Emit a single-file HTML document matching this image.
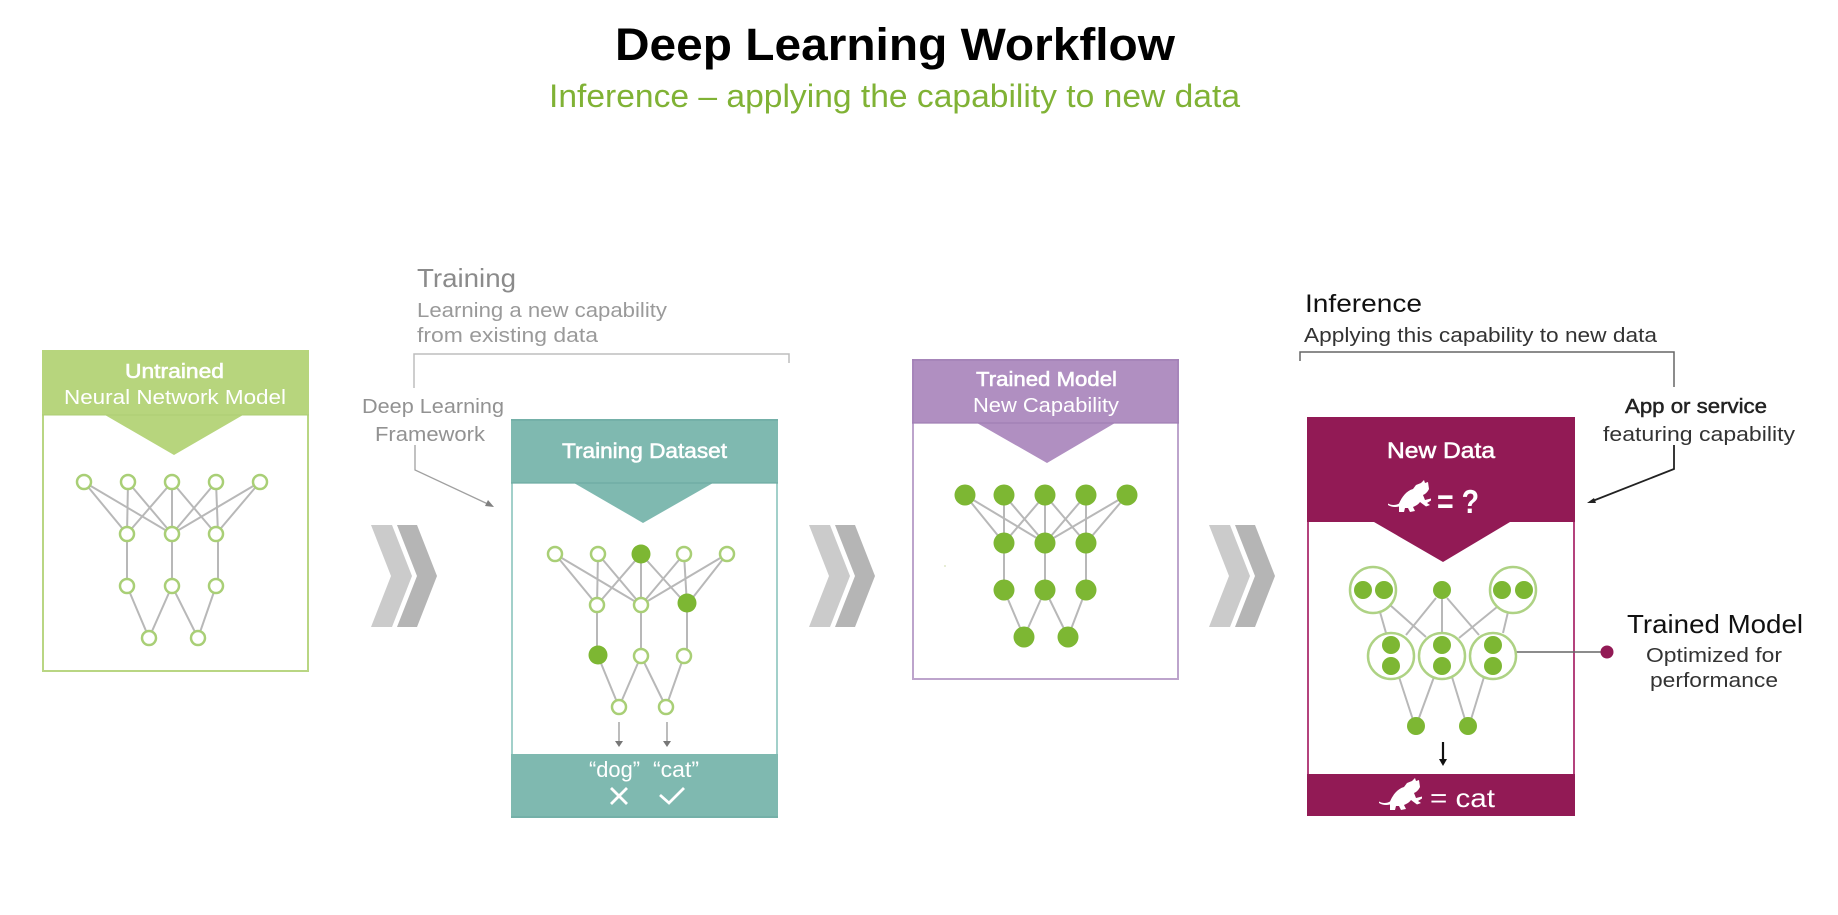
<!DOCTYPE html>
<html><head><meta charset="utf-8"><style>
html,body{margin:0;padding:0;background:#fff;width:1838px;height:915px;overflow:hidden}
svg{display:block;filter:blur(.35px)}
text{font-family:"Liberation Sans",sans-serif}
.e{stroke:#b8b8b8;stroke-width:2;fill:none}
.h{fill:#fff;stroke:#a9cf76;stroke-width:2.5}
.f{fill:#7db733}
.m{stroke:#fff;stroke-width:.55}
.d{stroke:#222;stroke-width:.45}
</style></head><body>
<svg width="1838" height="915" viewBox="0 0 1838 915" xmlns="http://www.w3.org/2000/svg">
<defs>
<path id="cat" d="M0 23.500C3 25.500 8 25.500 11 23.500C14 17 18 11 25 9L28 5L33 3L36 0L37 3L40 2L41 9C39 13 37 14 35 15L37 20L43 18.500L43 20.500L39 23L42 25L38 26.500L32 22C30 25 27 26 25 27L27 31L22 32L20 28L17 28L16 32L11 32L11 26.500C7 27.500 3 27 0 25Z" fill="#fff"/>
</defs>

<text x="615" y="60" font-size="45" font-weight="700" fill="#000" textLength="560" lengthAdjust="spacingAndGlyphs">Deep Learning Workflow</text>
<text x="549" y="107" font-size="32" fill="#80b235" textLength="691" lengthAdjust="spacingAndGlyphs">Inference – applying the capability to new data</text>

<!-- chevrons -->
<g><path d="M371 525H392L412 576L392 627H371L391 576Z" fill="#cbcbcb"/><path d="M397 525H417L437 576L417 627H397L417 576Z" fill="#b5b5b5"/></g>
<g transform="translate(438 0)"><path d="M371 525H392L412 576L392 627H371L391 576Z" fill="#cbcbcb"/><path d="M397 525H417L437 576L417 627H397L417 576Z" fill="#b5b5b5"/></g>
<g transform="translate(838 0)"><path d="M371 525H392L412 576L392 627H371L391 576Z" fill="#cbcbcb"/><path d="M397 525H417L437 576L417 627H397L417 576Z" fill="#b5b5b5"/></g>

<!-- Panel 1 -->
<rect x="43" y="351" width="265" height="320" fill="#fff" stroke="#b9d683" stroke-width="2"/>
<path d="M42 350H309V415H243L174 455L105 415H42Z" fill="#b7d57d"/>
<path d="M42 415H309" stroke="#aecd74" stroke-width="1"/>
<text class="m" x="125" y="378" font-size="20" fill="#fff" textLength="99" lengthAdjust="spacingAndGlyphs">Untrained</text>
<text x="64" y="404" font-size="20" fill="#fff" textLength="222" lengthAdjust="spacingAndGlyphs">Neural Network Model</text>
<g class="e">
<path d="M84 482L127 534M84 482L172 534M128 482L127 534M128 482L172 534M172 482L127 534M172 482L172 534M172 482L216 534M216 482L172 534M216 482L218 534M260 482L172 534M260 482L216 534"/>
<path d="M127 534V586M172 534V586M218 534V586M127 586L149 638M172 586L149 638M172 586L198 638M216 586L198 638"/>
</g>
<g class="h">
<circle cx="84" cy="482" r="7"/><circle cx="128" cy="482" r="7"/><circle cx="172" cy="482" r="7"/><circle cx="216" cy="482" r="7"/><circle cx="260" cy="482" r="7"/>
<circle cx="127" cy="534" r="7"/><circle cx="172" cy="534" r="7"/><circle cx="216" cy="534" r="7"/>
<circle cx="127" cy="586" r="7"/><circle cx="172" cy="586" r="7"/><circle cx="216" cy="586" r="7"/>
<circle cx="149" cy="638" r="7"/><circle cx="198" cy="638" r="7"/>
</g>

<!-- Training labels -->
<text x="417" y="287" font-size="26" fill="#8b8b8b" textLength="99" lengthAdjust="spacingAndGlyphs">Training</text>
<text x="417" y="317" font-size="20" fill="#9a9a9a" textLength="250" lengthAdjust="spacingAndGlyphs">Learning a new capability</text>
<text x="417" y="342" font-size="20" fill="#9a9a9a" textLength="181" lengthAdjust="spacingAndGlyphs">from existing data</text>
<path d="M414 388V354H789V363" fill="none" stroke="#bdbdbd" stroke-width="1.500"/>
<text x="362" y="413" font-size="20" fill="#929292" textLength="142" lengthAdjust="spacingAndGlyphs">Deep Learning</text>
<text x="375" y="441" font-size="20" fill="#929292" textLength="110" lengthAdjust="spacingAndGlyphs">Framework</text>
<path d="M415 445V470L490 505" fill="none" stroke="#a0a0a0" stroke-width="1.300"/>
<path d="M494 507L485 506L488 500Z" fill="#808080"/>

<!-- Panel 2 -->
<rect x="512" y="420" width="265" height="397" fill="#fff" stroke="#a2d0ca" stroke-width="2"/>
<path d="M511 419H778V483H713L643 523L574 483H511Z" fill="#7fb9b0"/>
<rect x="511" y="754" width="267" height="64" fill="#7fb9b0"/>
<path d="M511 420H778M511 483H778M511 817H778" stroke="#6eaca2" stroke-width="1.300"/>
<text class="m" x="562" y="458" font-size="21" fill="#fff" textLength="165" lengthAdjust="spacingAndGlyphs">Training Dataset</text>
<g class="e">
<path d="M555 554L597 605M555 554L641 605M598 554L597 605M598 554L641 605M641 554L597 605M641 554V605M641 554L687 605M684 554L641 605M684 554L687 605M727 554L641 605M727 554L687 605"/>
<path d="M597 605V656M641 605V656M687 605V656M598 656L619 707M641 656L619 707M641 656L666 707M684 656L666 707"/>
</g>
<g class="h">
<circle cx="555" cy="554" r="7"/><circle cx="598" cy="554" r="7"/><circle cx="684" cy="554" r="7"/><circle cx="727" cy="554" r="7"/>
<circle cx="597" cy="605" r="7"/><circle cx="641" cy="605" r="7"/>
<circle cx="641" cy="656" r="7"/><circle cx="684" cy="656" r="7"/>
<circle cx="619" cy="707" r="7"/><circle cx="666" cy="707" r="7"/>
</g>
<g class="f"><circle cx="641" cy="554" r="9.500"/><circle cx="687" cy="603" r="9.500"/><circle cx="598" cy="655" r="9.500"/></g>
<path d="M619 722V742M667 722V742" stroke="#999" stroke-width="1.300" fill="none"/>
<path d="M615 741H623L619 747ZM663 741H671L667 747Z" fill="#777"/>
<text x="589" y="777" font-size="22" fill="#fff" textLength="51" lengthAdjust="spacingAndGlyphs">“dog”</text>
<text x="653" y="777" font-size="22" fill="#fff" textLength="46" lengthAdjust="spacingAndGlyphs">“cat”</text>
<path d="M611 788L627 804M627 788L611 804M660 795L669 803L684 788" stroke="#fff" stroke-width="2.800" fill="none"/>

<!-- Panel 3 -->
<rect x="913" y="360" width="265" height="319" fill="#fff" stroke="#bda4cc" stroke-width="2"/>
<path d="M912 359H1179V423H1115L1047 463L977 423H912Z" fill="#b08fc1"/>
<path d="M912 360H1179M912 423H1179M913 359V423M1178 359V423" stroke="#a17fb5" stroke-width="1.200" fill="none"/>
<text class="m" x="976" y="386" font-size="20" fill="#fff" textLength="141" lengthAdjust="spacingAndGlyphs">Trained Model</text>
<text x="973" y="412" font-size="20" fill="#fff" textLength="146" lengthAdjust="spacingAndGlyphs">New Capability</text>
<circle cx="945" cy="566" r="1" fill="#dfe8c8"/>
<g class="e">
<path d="M965 495L1004 543M965 495L1045 543M1004 495V543M1004 495L1045 543M1045 495L1004 543M1045 495V543M1045 495L1086 543M1086 495L1045 543M1086 495V543M1127 495L1045 543M1127 495L1086 543"/>
<path d="M1004 543V590M1045 543V590M1086 543V590M1004 590L1024 637M1045 590L1024 637M1045 590L1068 637M1086 590L1068 637"/>
</g>
<g class="f">
<circle cx="965" cy="495" r="10.500"/><circle cx="1004" cy="495" r="10.500"/><circle cx="1045" cy="495" r="10.500"/><circle cx="1086" cy="495" r="10.500"/><circle cx="1127" cy="495" r="10.500"/>
<circle cx="1004" cy="543" r="10.500"/><circle cx="1045" cy="543" r="10.500"/><circle cx="1086" cy="543" r="10.500"/>
<circle cx="1004" cy="590" r="10.500"/><circle cx="1045" cy="590" r="10.500"/><circle cx="1086" cy="590" r="10.500"/>
<circle cx="1024" cy="637" r="10.500"/><circle cx="1068" cy="637" r="10.500"/>
</g>

<!-- Inference labels -->
<text x="1305" y="312" font-size="25" fill="#111" textLength="117" lengthAdjust="spacingAndGlyphs">Inference</text>
<text x="1304" y="342" font-size="20" fill="#333" textLength="353" lengthAdjust="spacingAndGlyphs">Applying this capability to new data</text>
<path d="M1300 361V352H1674V387" fill="none" stroke="#666" stroke-width="1.500"/>
<text class="d" x="1625" y="413" font-size="20" fill="#222" textLength="142" lengthAdjust="spacingAndGlyphs">App or service</text>
<text x="1603" y="441" font-size="20" fill="#333" textLength="192" lengthAdjust="spacingAndGlyphs">featuring capability</text>
<path d="M1674 445V469L1590 502" fill="none" stroke="#222" stroke-width="1.800"/>
<path d="M1587 503L1594 498L1596 503Z" fill="#222"/>

<!-- Panel 4 -->
<rect x="1308" y="418" width="266" height="397" fill="#fff" stroke="#b4437d" stroke-width="2"/>
<path d="M1307 417H1575V522H1510L1443 562L1374 522H1307Z" fill="#921a55"/>
<rect x="1307" y="774" width="268" height="42" fill="#921a55"/>
<text class="m" x="1387" y="458" font-size="22" fill="#fff" textLength="108" lengthAdjust="spacingAndGlyphs">New Data</text>
<use href="#cat" x="1388" y="480"/>
<text x="1437" y="513" font-size="33" font-weight="700" fill="#fff" textLength="42" lengthAdjust="spacingAndGlyphs">= ?</text>
<g class="e">
<path d="M1380 612L1386 633M1390 605L1426 637M1436 598L1406 635M1442 590V636M1447 598L1479 635M1497 607L1459 638M1508 612L1503 633"/>
<path d="M1399 677L1415 726M1434 677L1416 726M1452 677L1467 726M1484 677L1469 726"/>
</g>
<path d="M1516 652H1607" stroke="#666" stroke-width="1.500"/>
<g fill="#fff" stroke="#aed284" stroke-width="2.500">
<circle cx="1373" cy="590" r="23"/><circle cx="1513" cy="590" r="23"/>
<circle cx="1391" cy="656" r="23"/><circle cx="1442" cy="656" r="23"/><circle cx="1493" cy="656" r="23"/>
</g>
<g class="f">
<circle cx="1363" cy="590" r="9"/><circle cx="1384" cy="590" r="9"/><circle cx="1502" cy="590" r="9"/><circle cx="1524" cy="590" r="9"/><circle cx="1442" cy="590" r="9"/>
<circle cx="1391" cy="645" r="9"/><circle cx="1391" cy="666" r="9"/><circle cx="1442" cy="645" r="9"/><circle cx="1442" cy="666" r="9"/><circle cx="1493" cy="645" r="9"/><circle cx="1493" cy="666" r="9"/>
<circle cx="1416" cy="726" r="9"/><circle cx="1468" cy="726" r="9"/>
</g>
<circle cx="1607" cy="652" r="6.500" fill="#921a55"/>
<path d="M1443 742V760" stroke="#111" stroke-width="2.200"/>
<path d="M1439 759H1447L1443 766Z" fill="#111"/>
<use href="#cat" x="1379" y="778"/>
<text x="1430" y="807" font-size="26" fill="#fff" textLength="65" lengthAdjust="spacingAndGlyphs">= cat</text>
<text x="1627" y="633" font-size="26" fill="#111" textLength="176" lengthAdjust="spacingAndGlyphs">Trained Model</text>
<text x="1646" y="662" font-size="20" fill="#333" textLength="136" lengthAdjust="spacingAndGlyphs">Optimized for</text>
<text x="1650" y="687" font-size="20" fill="#333" textLength="128" lengthAdjust="spacingAndGlyphs">performance</text>
</svg>
</body></html>
